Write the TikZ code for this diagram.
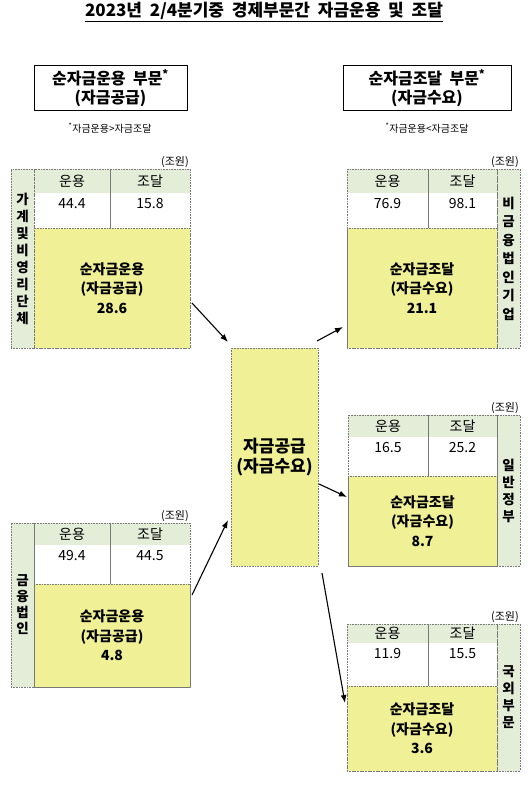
\documentclass[tikz,border=0pt]{standalone}
\usepackage{fontspec}
\setmainfont{Noto Sans CJK KR}
\usepackage{tikz}
\usetikzlibrary{arrows.meta,calc,positioning}

\definecolor{netyellow}{RGB}{240,240,150}
\definecolor{hdrgreen}{RGB}{227,237,216}
\definecolor{dotgray}{RGB}{120,120,120}

\tikzset{
  cell/.style={anchor=north west,inner sep=0pt,outer sep=0pt},
  hdrcell/.style={cell,fill=hdrgreen,font=\fontsize{14}{16}\selectfont},
  valcell/.style={cell,fill=white},
  netcell/.style={cell,fill=netyellow,draw=dotgray,densely dotted,line width=0.6pt},
  sidecell/.style={cell,fill=hdrgreen,draw=dotgray,densely dotted,line width=0.6pt},
  frame/.style={draw=dotgray,densely dotted,line width=0.6pt},
  valtxt/.style={inner sep=0pt,font=\fontsize{14}{16}\selectfont},
  nettxt/.style={align=center,font=\bfseries\fontsize{14}{19.5}\selectfont},
  sidetxt/.style={align=center,font=\bfseries\fontsize{13.5}{17}\selectfont},
  unittxt/.style={anchor=south east,inner sep=1pt,font=\fontsize{11}{13}\selectfont},
  sectorbox/.style={draw,line width=0.9pt,align=center,minimum height=40pt,
    font=\bfseries\fontsize{16}{19}\selectfont},
  notetxt/.style={font=\fontsize{10}{12}\selectfont},
  flow/.style={-{Latex[length=8pt,width=6pt]},line width=1.1pt},
}

% name, x0, x divider, x1, y0, y header, y value, y1, x side
\newcommand{\fundgrid}[9]{%
  \node[hdrcell,minimum width={(#3-#2)*1pt},minimum height={(#6-#5)*1pt}] (#1-use) at (#2,#5) {운용};
  \node[hdrcell,minimum width={(#4-#3)*1pt},minimum height={(#6-#5)*1pt}] (#1-raise) at (#3,#5) {조달};
  \node[valcell,minimum width={(#4-#2)*1pt},minimum height={(#7-#6)*1pt}] (#1-val) at (#2,#6) {};
  \node[netcell,minimum width={(#4-#2)*1pt},minimum height={(#8-#7)*1pt}] (#1-net) at (#2,#7) {};
  \node[sidecell,minimum width=23pt,minimum height={(#8-#5)*1pt}] (#1-side) at (#9,#5) {};
  \draw[frame] (#2,#5) rectangle (#4,#8);
  \draw[dotgray,line width=0.6pt] (#3,#5) -- (#3,#7);
  \node[unittxt] (#1-unit) at ({max(#4,#9+23)},#5) {(조원)};
}

\begin{document}
\begin{tikzpicture}[x=1pt,y=-1pt]
\useasboundingbox (0,0) rectangle (530,787);

\node (title) at (264,12) {\bfseries\fontsize{17}{20}\selectfont\underline{2023년\ \ 2/4분기중\ \ 경제부문간\ \ 자금운용\ \ 및\ \ 조달}};

\node[sectorbox,minimum width=153pt] (supply) at (110.5,88) {순자금운용\ \ 부문\textsuperscript{*}\\(자금공급)};
\node[sectorbox,minimum width=168pt] (demand) at (427,88) {순자금조달\ \ 부문\textsuperscript{*}\\(자금수요)};
\node[notetxt] (supplynote) at (110,128) {\textsuperscript{*}자금운용>자금조달};
\node[notetxt] (demandnote) at (427,128) {\textsuperscript{*}자금운용<자금조달};

% sectors
\fundgrid{hh}{34}{110}{190}{169}{193}{228}{348}{11}
\fundgrid{nf}{347}{428}{497}{169}{193}{228}{348}{497}
\fundgrid{fc}{34}{110}{190}{523}{545}{584}{687}{11}
\fundgrid{gg}{348}{428}{497}{415}{437}{476}{566}{497}
\fundgrid{rw}{347}{428}{497}{624}{643}{686}{771}{497}

\node[valtxt,below=5pt of hh-use] (hh-usev) {44.4};
\node[valtxt,below=5pt of hh-raise] (hh-raisev) {15.8};
\node[valtxt,below=5pt of nf-use] (nf-usev) {76.9};
\node[valtxt,below=5pt of nf-raise] (nf-raisev) {98.1};
\node[valtxt,below=5pt of fc-use] (fc-usev) {49.4};
\node[valtxt,below=5pt of fc-raise] (fc-raisev) {44.5};
\node[valtxt,below=5pt of gg-use] (gg-usev) {16.5};
\node[valtxt,below=5pt of gg-raise] (gg-raisev) {25.2};
\node[valtxt,below=5pt of rw-use] (rw-usev) {11.9};
\node[valtxt,below=5pt of rw-raise] (rw-raisev) {15.5};

\node[nettxt] (hh-nett) at (hh-net) {순자금운용\\(자금공급)\\28.6};
\node[nettxt] (nf-nett) at (nf-net) {순자금조달\\(자금수요)\\21.1};
\node[nettxt] (fc-nett) at (fc-net) {순자금운용\\(자금공급)\\4.8};
\node[nettxt] (gg-nett) at (gg-net) {순자금조달\\(자금수요)\\8.7};
\node[nettxt] (rw-nett) at (rw-net) {순자금조달\\(자금수요)\\3.6};

\node[sidetxt] (hh-sidet) at (hh-side) {가\\계\\및\\비\\영\\리\\단\\체};
\node[sidetxt,font=\bfseries\fontsize{13.5}{18.5}\selectfont] (nf-sidet) at (nf-side) {비\\금\\융\\법\\인\\기\\업};
\node[sidetxt,font=\bfseries\fontsize{13.5}{16}\selectfont] (fc-sidet) at (fc-side) {금\\융\\법\\인};
\node[sidetxt] (gg-sidet) at (gg-side) {일\\반\\정\\부};
\node[sidetxt] (rw-sidet) at (rw-side) {국\\외\\부\\문};

% pool
\node[netcell,minimum width=87pt,minimum height=218pt] (pool) at (231,348) {};
\node[nettxt,font=\bfseries\fontsize{17}{20}\selectfont] (poolt) at (pool) {자금공급\\(자금수요)};

% flows
\draw[flow] ($(hh-net.south east)+(2,-45)$) -- ($(pool.north west)+(-3,-6)$);
\draw[flow] ($(fc-net.north east)+(2,11)$) -- ($(pool.south west)+(-3,-46)$);
\draw[flow] ($(pool.north east)+(-1,-7)$) -- ($(nf-net.south west)+(-4,-21)$);
\draw[flow] ($(pool.north east)+(1,136)$) -- ($(gg-net.north west)+(-1,21)$);
\draw[flow] ($(pool.south east)+(4,7)$) -- ($(rw-net.north west)+(-2,17)$);
\end{tikzpicture}
\end{document}
